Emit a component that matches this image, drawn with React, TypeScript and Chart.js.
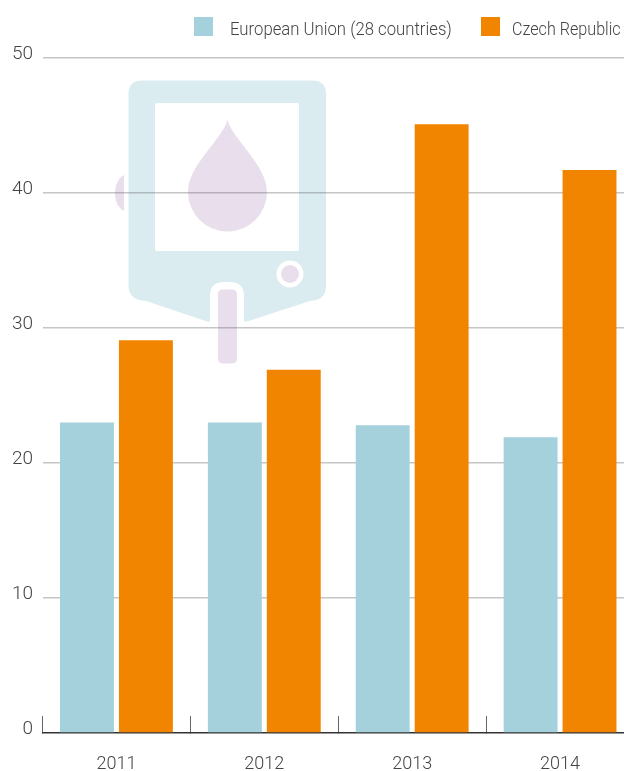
import React, { useEffect, useRef } from "react";
import { Chart, registerables } from "chart.js";

Chart.register(...registerables);

const years = ["2011", "2012", "2013", "2014"];
const seriesNames = ["European Union (28 countries)", "Czech Republic"];
const euValues = [23.0, 23.0, 22.8, 21.9];
const czValues = [29.1, 26.9, 45.1, 41.7];
const seriesColors = ["#a4d1dc", "#f28500"];

const FONT = "Roboto";
const TEXT = "#444444";

const illustration = {
  id: "illustration",
  beforeDraw(chart: any) {
    const c = chart.ctx as CanvasRenderingContext2D;
    c.save();
    const teal = "#daecf0";
    const lilac = "#e9dfec";
    c.fillStyle = lilac;
    c.fill(new Path2D("M124 175 C118 178 115 186 115 193 C115 201 118 208 124 211 Z"));
    c.fillStyle = teal;
    c.fill(new Path2D("M142 80.5 H312 Q326 80.5 326 94 V286 Q326 300 310 301 L247 321.5 H244 V296 Q244 282 230 282 H224 Q210 282 210 296 V321.5 H207 L146 301 Q128.5 300 128.5 286 V94 Q128.5 80.5 142 80.5 Z"));
    c.fillStyle = "#ffffff";
    c.fill(new Path2D("M157 103 H297 Q299 103 299 105 V249 Q299 251 297 251 H157 Q155 251 155 249 V105 Q155 103 157 103 Z"));
    c.fillStyle = lilac;
    c.fill(new Path2D("M227.5 120 C222 140 188 165 188 192 A39.5 39.5 0 0 0 267 192 C267 165 233 140 227.5 120 Z"));
    c.fillStyle = "#ffffff";
    c.beginPath();
    c.arc(290, 274, 13.5, 0, Math.PI * 2);
    c.fill();
    c.fillStyle = lilac;
    c.beginPath();
    c.arc(290, 274, 9, 0, Math.PI * 2);
    c.fill();
    c.fill(new Path2D("M223 289.5 H232 Q237 289.5 237 294.5 V358.5 Q237 363.5 232 363.5 H223 Q218 363.5 218 358.5 V294.5 Q218 289.5 223 289.5 Z"));
    c.restore();
  },
};

export default function App() {
  const ref = useRef<HTMLCanvasElement>(null);

  useEffect(() => {
    const chart = new Chart(ref.current!, {
      type: "bar",
      data: {
        labels: years,
        datasets: [
          { label: seriesNames[0], data: euValues, backgroundColor: seriesColors[0], categoryPercentage: 0.797, barPercentage: 0.915 },
          { label: seriesNames[1], data: czValues, backgroundColor: seriesColors[1], categoryPercentage: 0.797, barPercentage: 0.915 },
        ],
      },
      options: {
        responsive: false,
        animation: false,
        layout: { padding: { top: 58, left: 0, right: 0, bottom: 0 } },
        plugins: { legend: { display: false }, tooltip: { enabled: false }, title: { display: false } },
        scales: {
          x: {
            afterFit: (s: any) => { s.height = 38; },
            grid: { drawOnChartArea: false, drawTicks: true, tickLength: -17, tickColor: "#666666", tickWidth: 1, offset: true },
            border: { color: "#333333", width: 1.5 },
            ticks: { color: TEXT, font: { family: FONT, size: 18, weight: "300" }, padding: 38, maxRotation: 0 },
          },
          y: {
            min: 0,
            max: 50,
            afterFit: (s: any) => { s.width = 42.5; },
            grid: {
              color: (ctx: any) => (ctx.tick.value === 0 ? "rgba(0,0,0,0)" : "rgba(90,90,90,0.35)"),
              lineWidth: 1.5,
              drawTicks: false,
            },
            border: { display: false },
            ticks: { stepSize: 10, color: TEXT, font: { family: FONT, size: 19, weight: "300" }, padding: 9.5, labelOffset: -3.5 },
          },
        },
      },
      plugins: [illustration],
    } as any);
    return () => chart.destroy();
  }, []);

  return (
    <div style={{ position: "fixed", left: 0, top: 0, width: 624, height: 771, overflow: "hidden", background: "#fff" }}>
      <canvas ref={ref} width={634} height={771} style={{ display: "block" }} />
      {seriesNames.map((name, i) => (
        <React.Fragment key={name}>
          <span style={{ position: "absolute", top: 17, left: i === 0 ? 194 : 481, width: 19, height: 19, background: seriesColors[i] }} />
          <span style={{ position: "absolute", top: 17, left: i === 0 ? 230 : 512, height: 23, lineHeight: "23px", fontFamily: FONT, fontWeight: 300, fontSize: 19, color: TEXT, whiteSpace: "nowrap", transform: i === 0 ? "scaleX(0.88)" : "scaleX(0.85)", transformOrigin: "left center" }}>
            {name}
          </span>
        </React.Fragment>
      ))}
    </div>
  );
}
